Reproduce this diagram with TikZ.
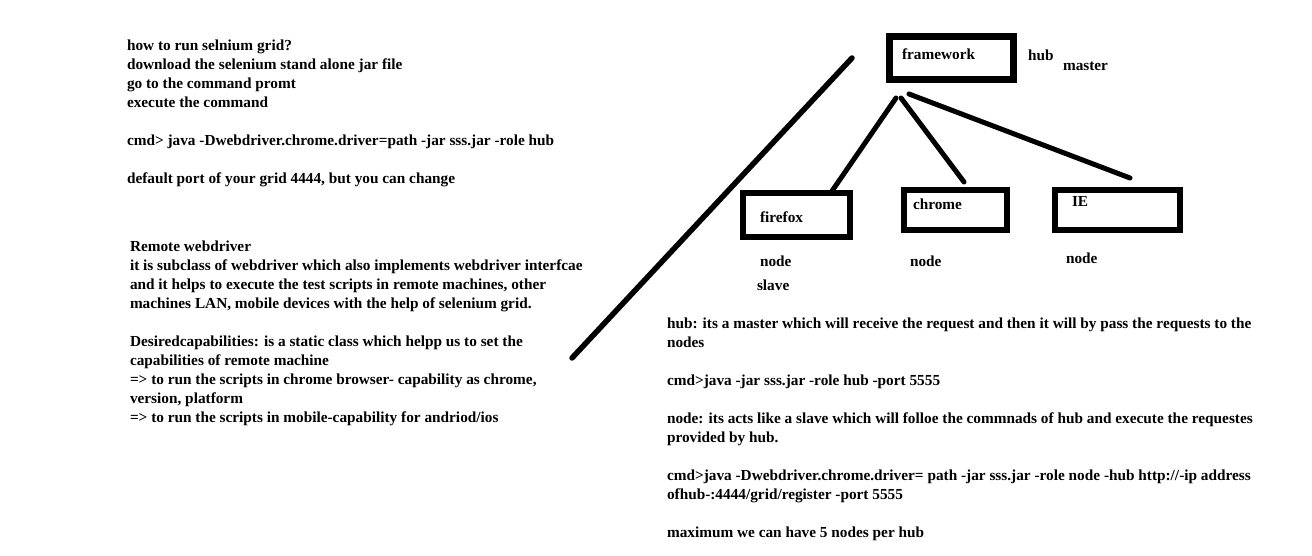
\documentclass[tikz,border=0pt]{standalone}
\usepackage{fontspec}
\setmainfont{Liberation Serif}
\begin{document}
\begin{tikzpicture}[x=1pt,y=-1pt,
  txt/.style={font=\fontsize{15.3}{19}\selectfont\bfseries, inner sep=0pt, outer sep=0pt, align=left, anchor=north west},
  lbl/.style={font=\fontsize{15.3}{19}\selectfont\bfseries, inner sep=0pt, outer sep=0pt, anchor=base west},
  boxx/.style={draw, line width=6pt, rectangle, inner sep=0pt},
  link/.style={line width=5pt, line cap=round}]
\useasboundingbox (0,0) rectangle (1312,556);
\fill[white] (0,0) rectangle (1312,556);

% left text blocks
\node[txt] (t1) at (127,39) {\rule{0pt}{12pt}how to run selnium grid?\\
download the selenium stand alone jar file\\
go to the command promt\\
execute the command\\[19pt]
cmd> java -Dwebdriver.chrome.driver=path -jar sss.jar -role hub\\[19pt]
default port of your grid 4444, but you can change};

\node[txt] (t2) at (130,239) {\rule{0pt}{12pt}Remote webdriver\\
it is subclass of webdriver which also implements webdriver interfcae\\
and it helps to execute the test scripts in remote machines, other\\
machines LAN, mobile devices with the help of selenium grid.\\[19pt]
Desiredcapabilities: is a static class which helpp us to set the\\
capabilities of remote machine\\
=> to run the scripts in chrome browser- capability as chrome,\\
version, platform\\
=> to run the scripts in mobile-capability for andriod/ios};

% right text block
\node[txt] (t3) at (667,316) {\rule{0pt}{12pt}hub: its a master which will receive the request and then it will by pass the requests to the\\
nodes\\[19pt]
cmd>java -jar sss.jar -role hub -port 5555\\[19pt]
node: its acts like a slave which will folloe the commnads of hub and execute the requestes\\
provided by hub.\\[19pt]
cmd>java -Dwebdriver.chrome.driver= path -jar sss.jar -role node -hub http://-ip address\\
ofhub-:4444/grid/register -port 5555\\[19pt]
maximum we can have 5 nodes per hub};

% boxes
\node[boxx, line width=7pt, minimum width=124pt, minimum height=43pt] (fw) at (951.5,58) {};
\node[boxx, minimum width=107pt, minimum height=44pt] (ff) at (796.5,215) {};
\node[boxx, minimum width=103pt, minimum height=40pt] (ch) at (955.5,210) {};
\node[boxx, minimum width=125pt, minimum height=40pt] (ie) at (1117.5,210) {};

\node[lbl] (fwt) at (902,60) {framework};
\node[lbl] (fft) at (760,223) {firefox};
\node[lbl] (cht) at (913,210) {chrome};
\node[lbl] (iet) at (1072,207) {IE};

\node[lbl] (hub) at (1028,61) {hub};
\node[lbl] (master) at (1063,71) {master};
\node[lbl] (n1) at (760,266) {node};
\node[lbl] (slave) at (757,290) {slave};
\node[lbl] (n2) at (910,266) {node};
\node[lbl] (n3) at (1066,263) {node};

% connectors
\coordinate (fwa) at (896,98);
\coordinate (fwb) at (901,98);
\coordinate (fwc) at (909,94);
\coordinate (ffe) at (832,191);
\coordinate (che) at (964,182);
\coordinate (iee) at (1130,178);
\draw[link] (fwa) -- (ffe);
\draw[link] (fwb) -- (che);
\draw[link] (fwc) -- (iee);

\coordinate (d1) at (852,58);
\coordinate (d2) at (572,358);
\draw[link, line width=5.5pt] (d1) -- (d2);
\end{tikzpicture}
\end{document}
